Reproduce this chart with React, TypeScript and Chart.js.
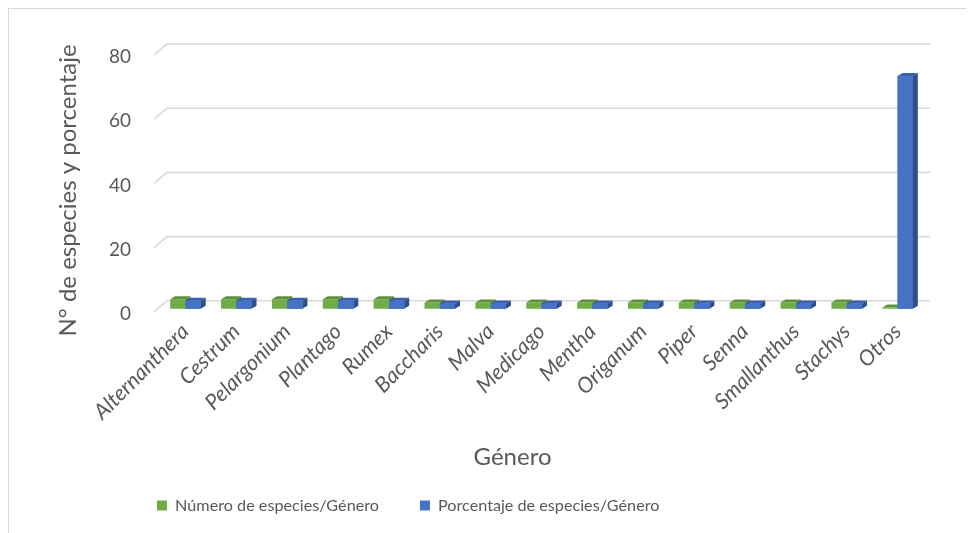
import React, { useEffect, useRef } from "react";
import { Chart, registerables } from "chart.js";

Chart.register(...registerables);

const categories = [
  "Alternanthera", "Cestrum", "Pelargonium", "Plantago", "Rumex",
  "Baccharis", "Malva", "Medicago", "Mentha", "Origanum",
  "Piper", "Senna", "Smallanthus", "Stachys", "Otros",
];
const numeroEspecies = [3, 3, 3, 3, 3, 2, 2, 2, 2, 2, 2, 2, 2, 2, 0.4];
const porcentajeEspecies = [2.5, 2.5, 2.5, 2.5, 2.5, 1.67, 1.67, 1.67, 1.67, 1.67, 1.67, 1.67, 1.67, 1.67, 72.5];
const seriesNames = ["Número de especies/Género", "Porcentaje de especies/Género"];
const yTicks = { min: 0, max: 80, step: 20 };

const FONT = "Lato, 'Open Sans', sans-serif";
const TEXT = "#595959";
const GREEN = { front: "#70AD47", top: "#5C9139", side: "#4C7A30" };
const BLUE = { front: "#4472C4", top: "#3862AE", side: "#2D4F8C" };

const DX = 5;
const DY = 3;

const gridPlugin = {
  id: "grid3d",
  beforeDatasetsDraw(chart: any) {
    const { ctx, chartArea } = chart;
    const ys = chart.scales.y;
    ctx.save();
    ctx.strokeStyle = "#d9d9d9";
    ctx.lineWidth = 1.6;
    ys.ticks.forEach((t: any) => {
      const y = ys.getPixelForValue(t.value);
      ctx.beginPath();
      ctx.moveTo(chartArea.left - 6, y + 3);
      ctx.lineTo(chartArea.left + 7, y - 8);
      ctx.lineTo(chartArea.right + 7, y - 8);
      ctx.stroke();
    });
    ctx.restore();
  },
};

function drawFaces(ctx: any, el: any, col: any) {
  const { x, y, base, width } = el.getProps(["x", "y", "base", "width"], true);
  const l = x - width / 2;
  const r = x + width / 2;
  ctx.fillStyle = col.top;
  ctx.beginPath();
  ctx.moveTo(l, y);
  ctx.lineTo(r, y);
  ctx.lineTo(r + DX, y - DY);
  ctx.lineTo(l + DX, y - DY);
  ctx.closePath();
  ctx.fill();
  ctx.fillStyle = col.side;
  ctx.beginPath();
  ctx.moveTo(r, y);
  ctx.lineTo(r + DX, y - DY);
  ctx.lineTo(r + DX, base - DY);
  ctx.lineTo(r, base);
  ctx.closePath();
  ctx.fill();
}

const bar3dPlugin = {
  id: "bar3d",
  afterDatasetsDraw(chart: any) {
    const { ctx } = chart;
    const g = chart.getDatasetMeta(0).data;
    const b = chart.getDatasetMeta(1).data;
    ctx.save();
    for (let i = 0; i < g.length; i++) {
      drawFaces(ctx, g[i], GREEN);
      b[i].draw(ctx);
      drawFaces(ctx, b[i], BLUE);
    }
    ctx.restore();
  },
};

const layoutPlugin = {
  id: "layoutTweak",
  afterLayout(chart: any) {
    const lg = chart.legend;
    if (lg) {
      lg.left += 107;
      lg.right += 107;
      lg.top -= 15.5;
      lg.bottom -= 15.5;
    }
    const xs = chart.scales.x;
    xs.left -= 58;
    const ys = chart.scales.y;
    ys.bottom += 20;
  },
};

export default function App() {
  const ref = useRef<HTMLCanvasElement | null>(null);
  useEffect(() => {
    if (!ref.current) return;
    const chart = new Chart(ref.current, {
      type: "bar",
      data: {
        labels: categories,
        datasets: [
          { label: seriesNames[0], data: numeroEspecies, backgroundColor: GREEN.front, borderWidth: 0 },
          { label: seriesNames[1], data: porcentajeEspecies, backgroundColor: BLUE.front, borderWidth: 0 },
        ],
      },
      options: {
        responsive: false,
        animation: false,
        layout: { padding: { top: 43, right: 47, bottom: -6, left: 0 } },
        datasets: { bar: { categoryPercentage: 0.6, barPercentage: 1 } },
        plugins: {
          legend: {
            position: "bottom",
            align: "start",
            labels: {
              boxWidth: 10,
              boxHeight: 10,
              padding: 41,
              color: TEXT,
              font: { family: FONT, size: 16.2 },
            },
          },
          tooltip: { enabled: false },
        },
        scales: {
          x: {
            grid: { display: false },
            border: { display: false },
            ticks: {
              autoSkip: false,
              maxRotation: 45,
              minRotation: 45,
              padding: 2,
              color: TEXT,
              font: { family: FONT, size: 21.5, style: "italic" },
            },
            title: {
              display: true,
              text: "Género",
              color: TEXT,
              padding: { top: 0, bottom: 0 },
              font: { family: FONT, size: 24 },
            },
            afterFit: (s: any) => { s.height = 163; },
          },
          y: {
            min: yTicks.min,
            max: yTicks.max,
            grid: { display: false },
            border: { display: false },
            ticks: {
              stepSize: yTicks.step,
              padding: 21,
              labelOffset: 5,
              color: TEXT,
              font: { family: FONT, size: 19 },
            },
            title: {
              display: true,
              text: "N° de especies y porcentaje",
              color: TEXT,
              padding: { top: 45, bottom: 0 },
              font: { family: FONT, size: 24 },
            },
            afterFit: (s: any) => { s.width = 151; },
          },
        },
      },
      plugins: [gridPlugin, bar3dPlugin, layoutPlugin],
    });
    return () => chart.destroy();
  }, []);

  return (
    <div
      style={{
        width: 963,
        height: 525,
        border: "1px solid #d9d9d9",
        borderBottom: "none",
        boxSizing: "border-box",
        background: "#fff",
      }}
    >
      <canvas ref={ref} width={961} height={524} style={{ display: "block" }} />
    </div>
  );
}
